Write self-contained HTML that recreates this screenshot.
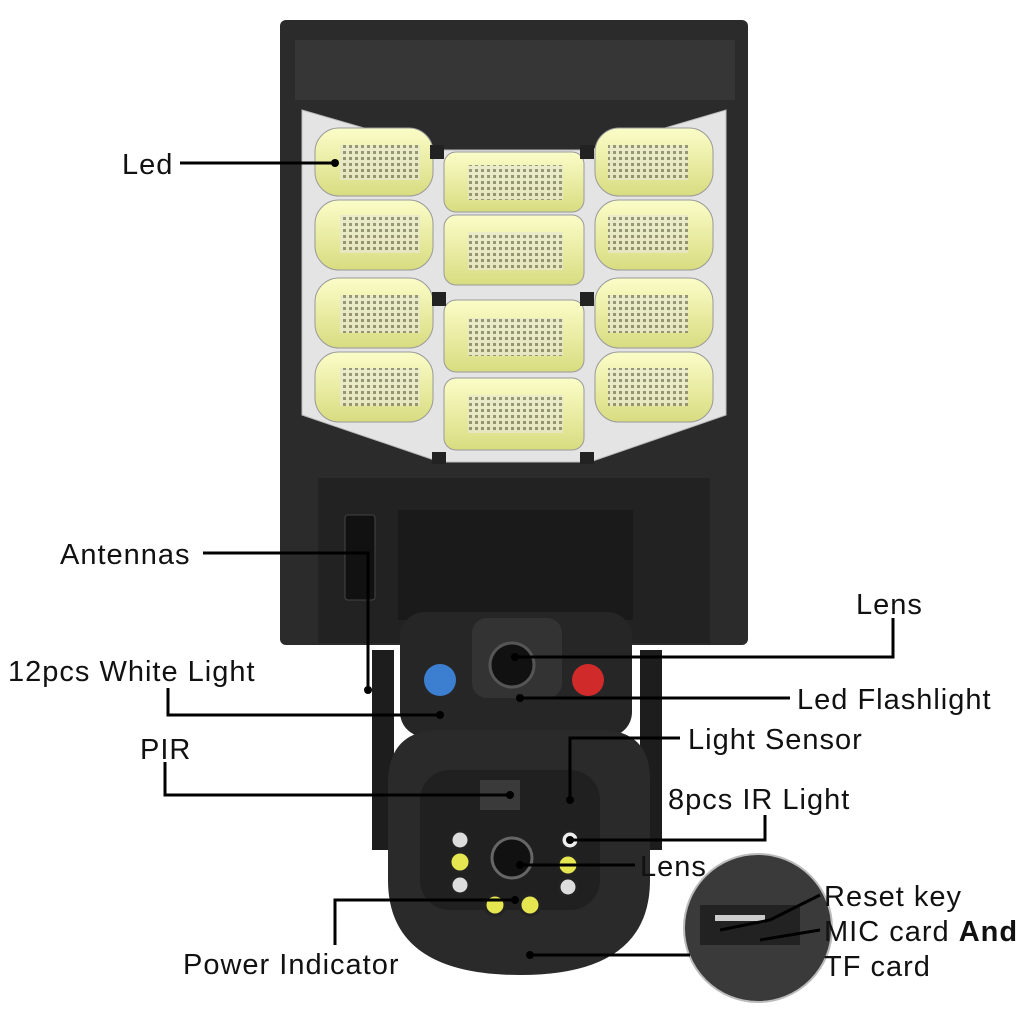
<!DOCTYPE html>
<html><head><meta charset="utf-8"><style>
html,body{margin:0;padding:0;background:#fff}
svg{display:block}
text{font-family:"Liberation Sans",sans-serif;font-size:29px;letter-spacing:1px;fill:#111}
</style></head><body>
<svg width="1024" height="1010" viewBox="0 0 1024 1010" xmlns="http://www.w3.org/2000/svg">
<defs>
<pattern id="led" width="6" height="6" patternUnits="userSpaceOnUse">
<rect width="6" height="6" fill="#e8e8d0"/><rect x="1" y="1" width="3" height="3" fill="#7a7a60"/>
</pattern>
<linearGradient id="ly" x1="0" y1="0" x2="0" y2="1"><stop offset="0" stop-color="#fbfdc8"/><stop offset="1" stop-color="#d8dc80"/></linearGradient>
</defs>
<rect x="280" y="20" width="468" height="625" rx="6" fill="#2b2b2b"/>
<rect x="295" y="40" width="440" height="60" fill="#363636"/>
<polygon points="302,110 440,150 590,150 726,110 726,415 590,462 440,462 302,415" fill="#e4e4e4" stroke="#bbb"/>
<g fill="url(#ly)" stroke="#999">
<rect x="315" y="128" width="118" height="68" rx="24"/><rect x="315" y="200" width="118" height="70" rx="24"/>
<rect x="315" y="278" width="118" height="70" rx="24"/><rect x="315" y="352" width="118" height="70" rx="24"/>
<rect x="444" y="152" width="140" height="60" rx="12"/><rect x="444" y="215" width="140" height="70" rx="12"/>
<rect x="444" y="300" width="140" height="72" rx="12"/><rect x="444" y="378" width="140" height="72" rx="12"/>
<rect x="595" y="128" width="118" height="68" rx="24"/><rect x="595" y="200" width="118" height="70" rx="24"/>
<rect x="595" y="278" width="118" height="70" rx="24"/><rect x="595" y="352" width="118" height="70" rx="24"/>
</g>
<g fill="url(#led)" opacity="0.75">
<rect x="340" y="145" width="80" height="35"/><rect x="340" y="215" width="80" height="38"/>
<rect x="340" y="295" width="80" height="38"/><rect x="340" y="368" width="80" height="38"/>
<rect x="468" y="165" width="95" height="35"/><rect x="468" y="232" width="95" height="38"/>
<rect x="468" y="318" width="95" height="38"/><rect x="468" y="395" width="95" height="38"/>
<rect x="608" y="145" width="80" height="35"/><rect x="608" y="215" width="80" height="38"/>
<rect x="608" y="295" width="80" height="38"/><rect x="608" y="368" width="80" height="38"/>
</g>
<g fill="#222"><rect x="430" y="145" width="14" height="14"/><rect x="580" y="145" width="14" height="14"/><rect x="432" y="292" width="14" height="14"/><rect x="580" y="292" width="14" height="14"/><rect x="432" y="452" width="14" height="12"/><rect x="580" y="452" width="14" height="12"/></g>
<rect x="318" y="478" width="392" height="165" fill="#222"/>
<rect x="345" y="515" width="30" height="85" rx="3" fill="#111" stroke="#444"/>
<rect x="398" y="510" width="235" height="110" fill="#1a1a1a"/>
<rect x="400" y="612" width="232" height="125" rx="25" fill="#262626"/>
<rect x="472" y="618" width="90" height="80" rx="15" fill="#333"/>
<circle cx="512" cy="665" r="22" fill="#111" stroke="#555" stroke-width="3"/>
<circle cx="440" cy="680" r="16" fill="#3c7fd0"/>
<circle cx="588" cy="680" r="16" fill="#d02a2a"/>
<rect x="372" y="650" width="22" height="200" fill="#1d1d1d"/>
<rect x="640" y="650" width="22" height="200" fill="#1d1d1d"/>
<path d="M388,780 Q390,730 440,730 L600,730 Q650,730 650,780 L650,880 Q650,975 520,975 Q388,975 388,880 Z" fill="#2a2a2a"/>
<rect x="420" y="770" width="180" height="140" rx="30" fill="#202020"/>
<rect x="480" y="780" width="40" height="30" fill="#3a3a3a"/>
<circle cx="512" cy="858" r="20" fill="#111" stroke="#666" stroke-width="3"/>
<circle cx="570" cy="840" r="9" fill="#eee" stroke="#222" stroke-width="3"/>
<g fill="#e6e650" stroke="#222" stroke-width="3">
<circle cx="460" cy="862" r="10"/><circle cx="568" cy="865" r="10"/><circle cx="495" cy="905" r="10"/><circle cx="530" cy="905" r="10"/>
</g>
<g fill="#ddd" stroke="#222" stroke-width="3">
<circle cx="460" cy="840" r="9"/><circle cx="460" cy="885" r="9"/><circle cx="568" cy="887" r="9"/>
</g>
<circle cx="758" cy="928" r="74" fill="#3a3a3a" stroke="#bbb" stroke-width="2"/>
<rect x="700" y="905" width="100" height="40" fill="#222"/>
<rect x="715" y="915" width="50" height="6" fill="#ccc"/>
<g stroke="#000" stroke-width="3" fill="none">
<polyline points="180,163 335,163"/>
<polyline points="203,553 368,553 368,690"/>
<polyline points="893,618 893,657 515,657"/>
<polyline points="168,688 168,715 440,715"/>
<polyline points="790,698 520,698"/>
<polyline points="165,762 165,795 510,795"/>
<polyline points="680,738 570,738 570,800"/>
<polyline points="765,815 765,840 570,840"/>
<polyline points="635,865 520,865"/>
<polyline points="335,945 335,900 515,900"/>
<polyline points="690,955 530,955"/>
<polyline points="820,895 770,920 720,930"/>
<polyline points="820,930 760,940"/>
</g>
<g fill="#000">
<circle cx="335" cy="163" r="4"/><circle cx="368" cy="690" r="4"/><circle cx="515" cy="657" r="4"/>
<circle cx="440" cy="715" r="4"/><circle cx="520" cy="698" r="4"/><circle cx="510" cy="795" r="4"/>
<circle cx="570" cy="800" r="4"/><circle cx="570" cy="840" r="4"/><circle cx="520" cy="865" r="4"/>
<circle cx="515" cy="900" r="4"/><circle cx="530" cy="955" r="4"/>
</g>
<text x="122" y="174">Led</text>
<text x="60" y="564">Antennas</text>
<text x="856" y="614">Lens</text>
<text x="8" y="681">12pcs White Light</text>
<text x="797" y="709">Led Flashlight</text>
<text x="140" y="759">PIR</text>
<text x="688" y="749">Light Sensor</text>
<text x="668" y="809">8pcs IR Light</text>
<text x="640" y="876">Lens</text>
<text x="183" y="974">Power Indicator</text>
<text x="824" y="906">Reset key</text>
<text x="824" y="941">MIC card <tspan font-weight="bold">And</tspan></text>
<text x="824" y="976">TF card</text>
</svg>
</body></html>
